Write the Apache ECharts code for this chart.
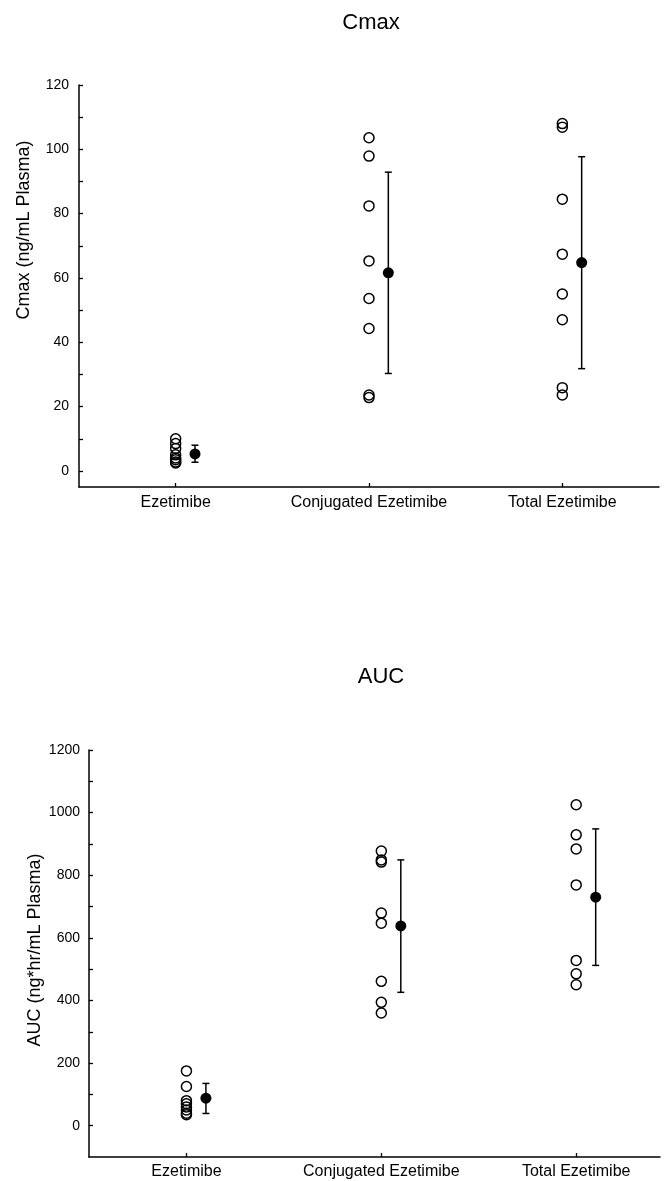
<!DOCTYPE html>
<html>
<head>
<meta charset="utf-8">
<script src="https://cdn.jsdelivr.net/npm/echarts@6/dist/echarts.min.js"></script>
<style>html,body{margin:0;padding:0;background:#fff;}#c{width:665px;height:1181px;}</style>
</head>
<body>
<div id="c"></div>
<script>
const categories = ['Ezetimibe', 'Conjugated Ezetimibe', 'Total Ezetimibe'];

const cmaxEze = [10, 8.5, 7, 5, 4, 3.5, 2.8, 2.5];
const cmaxConj = [103.6, 97.9, 82.4, 65.3, 53.6, 44.3, 23.6, 22.8];
const cmaxTotal = [108.0, 106.9, 84.5, 67.4, 55.0, 47.0, 25.9, 23.6];
const cmaxMean = [5.3, 61.6, 64.8];
const cmaxLow = [2.7, 30.3, 31.8];
const cmaxHigh = [8.0, 92.9, 97.7];

const aucEze = [175, 125, 80, 70, 60, 50, 40, 35];
const aucConj = [877, 849, 842, 679, 647, 461, 394, 360];
const aucTotal = [1025, 929, 884, 769, 528, 485, 450];
const aucMean = [88, 638, 730];
const aucLow = [39, 426, 512];
const aucHigh = [135, 849, 948];

const cmaxTickLabels = [0, 20, 40, 60, 80, 100, 120];
const cmaxTicks = [0, 10, 20, 30, 40, 50, 60, 70, 80, 90, 100, 110, 120];
const aucTickLabels = [0, 200, 400, 600, 800, 1000, 1200];
const aucTicks = [0, 100, 200, 300, 400, 500, 600, 700, 800, 900, 1000, 1100, 1200];

const FONT = "'Liberation Sans', Arial, Helvetica, sans-serif";
const MEAN_OFFSET = 0.1;

function individuals(groups) {
  const out = [];
  groups.forEach((vals, g) => vals.forEach(v => out.push([g + 1, v])));
  return out;
}
function means(m) { return m.map((v, g) => [g + 1 + MEAN_OFFSET, v]); }
function bars(lo, hi) { return lo.map((v, g) => [g + 1 + MEAN_OFFSET, v, hi[g]]); }

function errRender(params, api) {
  const x = api.value(0), lo = api.value(1), hi = api.value(2);
  const a = api.coord([x, lo]), b = api.coord([x, hi]);
  const w = 3.5;
  const st = { stroke: '#000', lineWidth: 1.5 };
  return {
    type: 'group',
    children: [
      { type: 'line', shape: { x1: a[0], y1: a[1], x2: b[0], y2: b[1] }, style: st },
      { type: 'line', shape: { x1: a[0] - w, y1: a[1], x2: a[0] + w, y2: a[1] }, style: st },
      { type: 'line', shape: { x1: b[0] - w, y1: b[1], x2: b[0] + w, y2: b[1] }, style: st }
    ]
  };
}

function xAxis(grid, max, margin) {
  return {
    gridIndex: grid, type: 'value', min: 0.5, max: max,
    axisLine: { onZero: false, lineStyle: { color: '#000', width: 1.5 } },
    axisTick: { inside: true, length: 4, customValues: [1, 2, 3], lineStyle: { color: '#000', width: 1.3 } },
    axisLabel: { customValues: [1, 2, 3], formatter: v => categories[Math.round(v) - 1], color: '#000', fontSize: 16, fontFamily: FONT, margin: margin },
    splitLine: { show: false }
  };
}
function yAxis(grid, min, max, labels, ticks, margin) {
  return {
    gridIndex: grid, type: 'value', min: min, max: max,
    axisLine: { show: true, onZero: false, lineStyle: { color: '#000', width: 1.5 } },
    axisTick: { show: true, inside: true, length: 4, customValues: ticks, lineStyle: { color: '#000', width: 1.3 } },
    axisLabel: { customValues: labels, formatter: v => String(v), color: '#000', fontSize: 14, fontFamily: FONT, margin: margin },
    splitLine: { show: false }
  };
}

const openCircle = { color: 'rgba(0,0,0,0)', borderColor: '#000', borderWidth: 1.5, opacity: 1 };
const filledDot = { color: '#000', opacity: 1 };

const option = {
  backgroundColor: '#fff',
  animation: false,
  grid: [
    { left: 79, right: 6, top: 85, height: 402 },
    { left: 89, right: 5, top: 750, height: 407 }
  ],
  xAxis: [xAxis(0, 3.5, 8), xAxis(1, 3.43, 7)],
  yAxis: [
    yAxis(0, -5, 120, cmaxTickLabels, cmaxTicks, 10),
    yAxis(1, -100, 1200, aucTickLabels, aucTicks, 9)
  ],
  graphic: [
    { type: 'text', x: 371, y: 23, style: { text: 'Cmax', font: '22px ' + FONT, fill: '#000', textAlign: 'center', textVerticalAlign: 'middle', align: 'center', verticalAlign: 'middle' } },
    { type: 'text', x: 381, y: 677, style: { text: 'AUC', font: '22px ' + FONT, fill: '#000', textAlign: 'center', textVerticalAlign: 'middle', align: 'center', verticalAlign: 'middle' } },
    { type: 'text', x: 24, y: 230, rotation: Math.PI / 2, style: { text: 'Cmax (ng/mL Plasma)', font: '18px ' + FONT, fill: '#000', textAlign: 'center', textVerticalAlign: 'middle', align: 'center', verticalAlign: 'middle' } },
    { type: 'text', x: 35, y: 950, rotation: Math.PI / 2, style: { text: 'AUC (ng*hr/mL Plasma)', font: '18px ' + FONT, fill: '#000', textAlign: 'center', textVerticalAlign: 'middle', align: 'center', verticalAlign: 'middle' } }
  ],
  series: [
    { type: 'scatter', xAxisIndex: 0, yAxisIndex: 0, symbol: 'circle', symbolSize: 10, itemStyle: openCircle, data: individuals([cmaxEze, cmaxConj, cmaxTotal]) },
    { type: 'custom', xAxisIndex: 0, yAxisIndex: 0, renderItem: errRender, encode: { x: 0, y: [1, 2] }, data: bars(cmaxLow, cmaxHigh), z: 3 },
    { type: 'scatter', xAxisIndex: 0, yAxisIndex: 0, symbol: 'circle', symbolSize: 11, itemStyle: filledDot, data: means(cmaxMean), z: 4 },
    { type: 'scatter', xAxisIndex: 1, yAxisIndex: 1, symbol: 'circle', symbolSize: 10, itemStyle: openCircle, data: individuals([aucEze, aucConj, aucTotal]) },
    { type: 'custom', xAxisIndex: 1, yAxisIndex: 1, renderItem: errRender, encode: { x: 0, y: [1, 2] }, data: bars(aucLow, aucHigh), z: 3 },
    { type: 'scatter', xAxisIndex: 1, yAxisIndex: 1, symbol: 'circle', symbolSize: 11, itemStyle: filledDot, data: means(aucMean), z: 4 }
  ]
};

const chart = echarts.init(document.getElementById('c'), null, { renderer: 'canvas' });
chart.setOption(option);
</script>
</body>
</html>
